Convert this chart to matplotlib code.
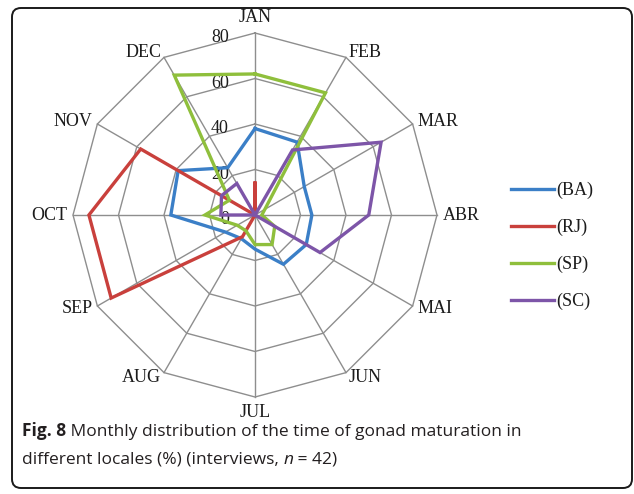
import matplotlib.pyplot as plt
import numpy as np
from matplotlib.patches import FancyBboxPatch

# values (percent)
months = ['JAN', 'FEB', 'MAR', 'ABR', 'MAI', 'JUN',
          'JUL', 'AUG', 'SEP', 'OCT', 'NOV', 'DEC']
ba = [38, 37, 25, 25, 26, 25, 15, 12, 15, 37, 39, 24]
rj = [14, 0, 0, 0, 0, 0, 0, 11, 73, 73, 58, 0]
sp = [62, 62, 5, 3, 10, 15, 13, 8, 9, 22, 13, 71]
sc = [0, 33, 64, 50, 33, 0, 0, 0, 0, 15, 17, 16]
names = ['(BA)', '(RJ)', '(SP)', '(SC)']
colors = ['#3b7fc7', '#c9403c', '#8fbf3c', '#7d55a8']
ticks = [0, 20, 40, 60, 80]

W, H = 634, 494
fig = plt.figure(figsize=(W / 100, H / 100), dpi=100)

# radar drawn in a square axes, centre at (255, 215) px from top
cx, cy, R = 255, 215, 227.5
ax = fig.add_axes([(cx - R) / W, (H - cy - R) / H, 2 * R / W, 2 * R / H])
ax.set_xlim(-100, 100)
ax.set_ylim(-100, 100)
ax.axis('off')

ang = np.arange(len(months)) * 2 * np.pi / len(months)
sx, sy = np.sin(ang), np.cos(ang)
rmax = ticks[-1]
grid = '#8e8e8e'

for t in ticks[1:]:
    ax.plot(np.append(t * sx, t * sx[0]), np.append(t * sy, t * sy[0]),
            color=grid, lw=1.0, zorder=1)
for x, y in zip(sx, sy):
    ax.plot([0, rmax * x], [0, rmax * y], color=grid, lw=1.0, zorder=1)

serif = 'Liberation Serif'
txt = '#1c1c1c'
for m, x, y in zip(months, sx, sy):
    ha = 'left' if x > 0.1 else ('right' if x < -0.1 else 'center')
    if abs(x) < 0.1:
        va = 'bottom' if y > 0 else 'top'
        r = rmax + 3
    else:
        va = 'center'
        r = rmax + 2.5
    ax.text(r * x, r * y, m, ha=ha, va=va, fontsize=13, family=serif,
            color=txt)

for t in ticks:
    ax.text(-11.5, t - 2, str(t), ha='right', va='center', fontsize=13,
            family=serif, color=txt)

vals = [ba, rj, sp, sc]
for name, v, c in zip(names, vals, colors):
    v = np.array(v, dtype=float)
    ax.plot(np.append(v * sx, v[0] * sx[0]), np.append(v * sy, v[0] * sy[0]),
            color=c, lw=2.4, label=name, zorder=3, solid_joinstyle='miter')

fig.legend(loc='center left', bbox_to_anchor=(511 / W, 1 - 246 / H),
           frameon=False, prop={'family': serif, 'size': 13},
           handlelength=2.4, handletextpad=0.1, labelspacing=1.1,
           borderpad=0, borderaxespad=0, labelcolor=txt)

# caption
cap = dict(fontsize=12.5, family='Open Sans', color='#231f20')
t1 = fig.text(22 / W, 1 - 440 / H, 'Fig. 8', weight='bold', va='bottom', **cap)
ax.annotate(' Monthly distribution of the time of gonad maturation in',
            xy=(1, 0), xycoords=t1, va='bottom', ha='left', **cap)
t2 = fig.text(22 / W, 1 - 468 / H, 'different locales (%) (interviews, ',
              va='bottom', **cap)
t3 = ax.annotate('n', xy=(1, 0), xycoords=t2, va='bottom', ha='left',
                 style='italic', **cap)
ax.annotate(' = 42)', xy=(1, 0), xycoords=t3, va='bottom', ha='left', **cap)

frame = FancyBboxPatch((0.12, 0.06), 6.20, 4.80,
                       boxstyle='round,pad=0,rounding_size=0.09',
                       transform=fig.dpi_scale_trans, fill=False,
                       ec='#1a1a1a', lw=1.4)
fig.patches.append(frame)

fig.savefig('out.png', dpi=100)
